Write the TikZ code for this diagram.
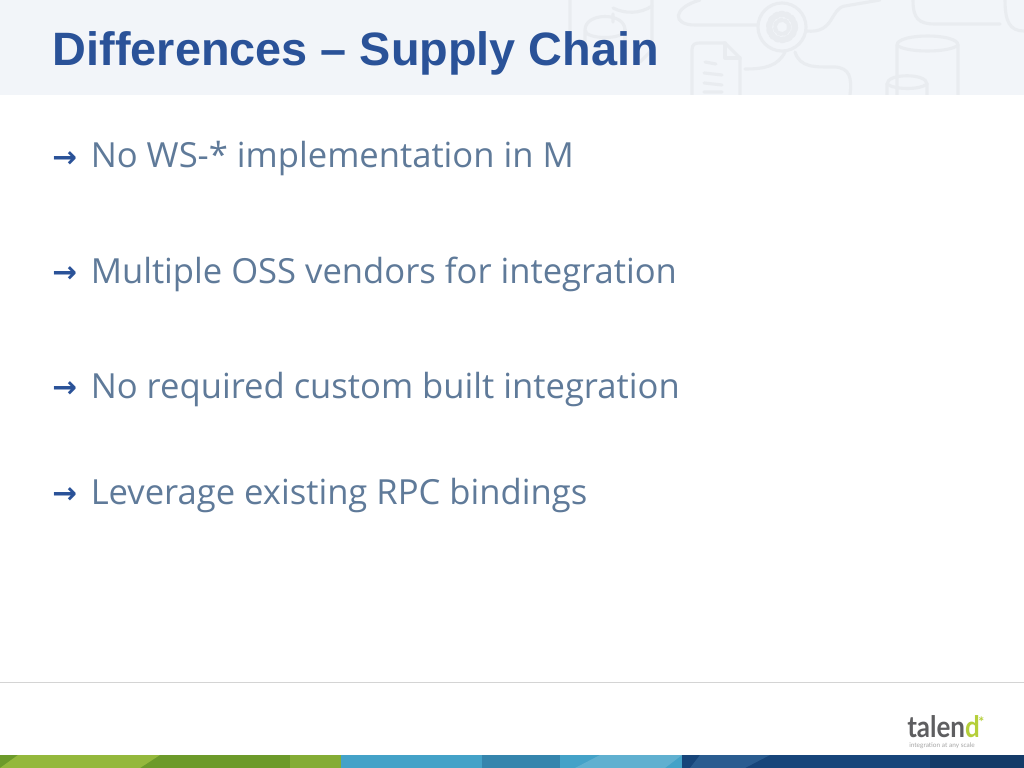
\documentclass[tikz,border=0pt]{standalone}
\usepackage{fontspec}
\setmainfont{Open Sans}
\newfontfamily\titlefont{Liberation Sans}
\newfontfamily\arrowfont{DejaVu Sans}
\newfontfamily\logofont{Lato}
\usepackage{xcolor}
\definecolor{bandgrey}{HTML}{F2F5F9}
\definecolor{sketchgrey}{HTML}{E9ECF0}
\definecolor{titleblue}{HTML}{2A5298}
\definecolor{bodyblue}{HTML}{5F7A99}
\definecolor{rulegrey}{HTML}{D4D4D4}
\definecolor{logogrey}{HTML}{5E5E60}
\definecolor{logogreen}{HTML}{B5CF3A}
\definecolor{footgreen}{HTML}{6C9A2A}
\definecolor{footgreenb}{HTML}{94B83C}
\definecolor{footcyan}{HTML}{44A2C8}
\definecolor{footcyanb}{HTML}{3585AD}
\definecolor{footnavy}{HTML}{17457A}
\definecolor{footnavyb}{HTML}{2A5C90}
\tikzset{
  titletext/.style={anchor=base west,inner sep=0pt,text=titleblue,font=\titlefont\bfseries\fontsize{33.3}{36}\selectfont},
  itemtext/.style={anchor=base west,inner sep=0pt,text=bodyblue,font=\fontsize{24.6}{30}\selectfont},
  itemarrow/.style={anchor=base west,inner sep=0pt,text=titleblue,font=\arrowfont\bfseries\fontsize{21}{24}\selectfont},
  sketch/.style={draw=sketchgrey,line width=2.2pt,line cap=round,line join=round},
}
\begin{document}
\begin{tikzpicture}[x=0.025cm,y=-0.025cm]
        \useasboundingbox (0,0) rectangle (1024,768);
        \fill[white] (0,0) rectangle (1024,768);
        % top band
        \fill[bandgrey] (0,0) rectangle (1024,95);
        \begin{scope}
        \clip (0,0) rectangle (1024,95);
        \draw[sketch] (570,0) -- (570,40) (613,14) -- (613,22) (652,0) -- (652,50) -- (640,62);
        \draw[sketch] (613,8) .. controls (625,14) and (640,14) .. (652,6);
        \draw[sketch] (585,30) .. controls (585,12) and (625,12) .. (625,30) .. controls (625,40) and (585,40) .. (585,30) -- (585,60);
        \draw[sketch] (625,30) -- (625,60);
        \draw[sketch] (782,27) circle (24);
        \draw[sketch,dotted,line width=4.5pt] (782,27) circle (13);
        \draw[sketch,dotted,line width=3pt] (782,27) circle (7);
        \draw[sketch] (757,25) -- (695,25) .. controls (672,25) and (672,8) .. (700,0);
        \draw[sketch] (806,31) .. controls (835,34) and (830,8) .. (845,6) -- (880,0);
        \draw[sketch] (913,0) .. controls (913,18) and (918,24) .. (935,24) -- (1000,24);
        \draw[sketch] (1005,0) .. controls (1005,22) and (1010,31) .. (1024,31);
        \draw[sketch] (692,95) -- (692,50) .. controls (692,44) and (695,43) .. (700,43) -- (725,43) -- (740,58) -- (740,95);
        \draw[sketch] (725,43) -- (725,58) -- (740,58);
        \draw[sketch] (705,62) -- (716,64) (704,73) -- (722,75) (704,83) -- (722,85) (704,92) -- (722,92);
        \draw[sketch] (745,69) .. controls (765,69) and (778,66) .. (785,52);
        \draw[sketch] (795,52) .. controls (800,68) and (815,67) .. (835,67) .. controls (850,68) and (852,78) .. (850,95);
        \draw[sketch] (897,95) -- (897,45) .. controls (897,33) and (958,33) .. (958,45) -- (958,95);
        \draw[sketch] (897,45) .. controls (905,53) and (950,53) .. (958,45);
        \draw[sketch] (887,95) -- (887,84) .. controls (887,73) and (927,73) .. (927,84) -- (927,95);
        \draw[sketch] (887,84) .. controls (895,90) and (920,90) .. (927,84);
        \end{scope}
        \node[titletext](title) at (52.5,66) {Differences – Supply Chain};
        % list
        \node[itemarrow](arrowa) at (52,167) {→};
        \node[itemtext](itema) at (90.5,168) {No WS-* implementation in M};
        \node[itemarrow](arrowb) at (52,282) {→};
        \node[itemtext](itemb) at (90.5,283) {Multiple OSS vendors for integration};
        \node[itemarrow](arrowc) at (52,397) {→};
        \node[itemtext](itemc) at (90.5,398) {No required custom built integration};
        \node[itemarrow](arrowd) at (52,503) {→};
        \node[itemtext](itemd) at (90.5,504) {Leverage existing RPC bindings};
        % footer
        \draw[rulegrey,line width=0.7pt] (0,682.5) -- (1024,682.5);
        \node[anchor=base west,inner sep=0pt,xscale=0.88,text depth=0pt,font=\logofont\bfseries\fontsize{21}{24}\selectfont,text=logogrey](logo) at (907,737) {talen\textcolor{logogreen}{d}};
        \node[anchor=north west,inner sep=0pt,font=\logofont\bfseries\fontsize{10}{10}\selectfont,text=logogreen](logostar) at (978,717) {*};
        \node[anchor=base west,inner sep=0pt,text height=3pt,font=\logofont\fontsize{4.6}{6}\selectfont,text=gray!70](slogan) at (909,747) {integration at any scale};
        \fill[footgreen] (0,755) rectangle (341,768);
        \fill[footgreenb] (0,768) -- (18,755) -- (160,755) -- (140,768) -- cycle;
        \fill[footgreenb!60!footgreen] (290,755) rectangle (341,768);
        \fill[footcyan] (341,755) rectangle (682,768);
        \fill[footcyanb] (482,755) rectangle (560,768);
        \fill[footcyan!85!white] (575,768) -- (600,755) -- (682,755) -- (665,768) -- cycle;
        \fill[footnavy] (682,755) rectangle (1024,768);
        \fill[footnavyb] (690,768) -- (700,755) -- (770,755) -- (745,768) -- cycle;
        \fill[footnavy!85!black] (930,755) rectangle (1024,768);
\end{tikzpicture}
\end{document}
